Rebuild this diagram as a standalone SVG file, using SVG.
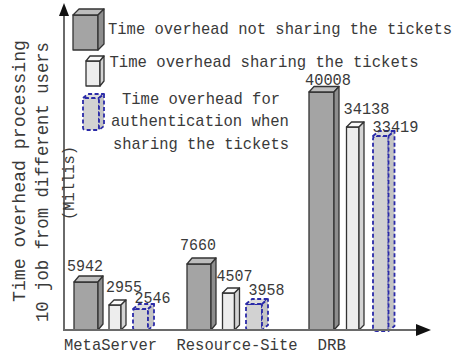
<svg xmlns="http://www.w3.org/2000/svg" width="462" height="354" viewBox="0 0 462 354">
<defs>
<style>
text{font-family:"Liberation Mono","DejaVu Sans Mono",monospace;fill:#3a3a3a;font-size:17px}
.ylab{font-size:19px}
.dk .f{fill:#a4a4a4}.dk .t{fill:#bdbdbd}.dk .s{fill:#8e8e8e}
.lt .f{fill:#ededed}.lt .t{fill:#fafafa}.lt .s{fill:#d4d4d4}
.dk *,.lt *{stroke:#333;stroke-width:1.3;stroke-linejoin:round}
.ds *{fill:#d2d2d2;stroke:#2a2aa8;stroke-width:1.8;stroke-dasharray:4 2.5;stroke-linejoin:round}
.ds .t{fill:#dcdcdc}.ds .s{fill:#c4c4c4}
.axis{stroke:#6a6a6a;stroke-width:2;fill:none}
</style>
</defs>
<rect width="462" height="354" fill="#fff"/>

<!-- legend -->
<g id="legend-not-sharing" class="dk">
<rect class="f" x="73" y="15" width="25" height="35"/>
<polygon class="t" points="73,15 79,9 104,9 98,15"/>
<polygon class="s" points="98,15 104,9 104,44 98,50"/>
</g>
<text x="108" y="34" textLength="344" lengthAdjust="spacingAndGlyphs">Time overhead not sharing the tickets</text>
<g id="legend-sharing" class="lt">
<rect class="f" x="86" y="61" width="14" height="25"/>
<polygon class="t" points="86,61 90,56 104,56 100,61"/>
<polygon class="s" points="100,61 104,56 104,81 100,86"/>
</g>
<text x="109.5" y="66.5" textLength="309" lengthAdjust="spacingAndGlyphs">Time overhead sharing the tickets</text>
<g id="legend-auth" class="ds">
<rect class="f" x="83" y="98" width="16" height="32" rx="2"/>
<polygon class="t" points="83,98 88,94 104,94 99,98"/>
<polygon class="s" points="99,98 104,94 104,126 99,130"/>
</g>
<g text-anchor="middle">
<text x="201" y="103.5" textLength="158" lengthAdjust="spacingAndGlyphs">Time overhead for</text>
<text x="200" y="126" textLength="178" lengthAdjust="spacingAndGlyphs">authentication when</text>
<text x="201" y="148.5" textLength="176" lengthAdjust="spacingAndGlyphs">sharing the tickets</text>
</g>

<!-- MetaServer -->
<g id="metaserver-not-sharing" class="dk">
<rect class="f" x="74" y="282" width="24" height="48"/>
<polygon class="t" points="74,282 79,276 103,276 98,282"/>
<polygon class="s" points="98,282 103,276 103,324 98,330"/>
</g>
<g id="metaserver-sharing" class="lt">
<rect class="f" x="109" y="305" width="12" height="25"/>
<polygon class="t" points="109,305 114,300 126,300 121,305"/>
<polygon class="s" points="121,305 126,300 126,325 121,330"/>
</g>
<g id="metaserver-auth" class="ds">
<rect class="f" x="133" y="309" width="15" height="21" rx="2"/>
<polygon class="t" points="133,309 139,304 154,304 148,309"/>
<polygon class="s" points="148,309 154,304 154,325 148,330"/>
</g>

<!-- Resource-Site -->
<g id="resource-not-sharing" class="dk">
<rect class="f" x="187" y="264" width="24" height="66"/>
<polygon class="t" points="187,264 192,258 216,258 211,264"/>
<polygon class="s" points="211,264 216,258 216,324 211,330"/>
</g>
<g id="resource-sharing" class="lt">
<rect class="f" x="222.5" y="293" width="12" height="37"/>
<polygon class="t" points="222.5,293 227.5,288 239.5,288 234.5,293"/>
<polygon class="s" points="234.5,293 239.5,288 239.5,325 234.5,330"/>
</g>
<g id="resource-auth" class="ds">
<rect class="f" x="246" y="304" width="16" height="26" rx="2"/>
<polygon class="t" points="246,304 252,299 268,299 262,304"/>
<polygon class="s" points="262,304 268,299 268,325 262,330"/>
</g>

<!-- DRB -->
<g id="drb-not-sharing" class="dk">
<rect class="f" x="309" y="92" width="25" height="238"/>
<polygon class="t" points="309,92 314,86.5 339,86.5 334,92"/>
<polygon class="s" points="334,92 339,86.5 339,324.5 334,330"/>
</g>
<g id="drb-sharing" class="lt">
<rect class="f" x="346.5" y="127" width="12.5" height="203"/>
<polygon class="t" points="346.5,127 351.5,122 364,122 359,127"/>
<polygon class="s" points="359,127 364,122 364,325 359,330"/>
</g>
<g id="drb-auth" class="ds">
<rect class="f" x="373" y="136" width="15.5" height="195" rx="3"/>
<polygon class="t" points="373,136 379,131 394.5,131 388.5,136"/>
<polygon class="s" points="388.5,136 394.5,131 394.5,326 388.5,331"/>
</g>

<!-- value labels -->
<g id="values">
<text x="67" y="271" textLength="36" lengthAdjust="spacingAndGlyphs">5942</text>
<text x="106" y="292" textLength="36" lengthAdjust="spacingAndGlyphs">2955</text>
<text x="134.5" y="302.5" textLength="36" lengthAdjust="spacingAndGlyphs">2546</text>
<text x="180" y="250" textLength="36" lengthAdjust="spacingAndGlyphs">7660</text>
<text x="216.5" y="281" textLength="36" lengthAdjust="spacingAndGlyphs">4507</text>
<text x="248.5" y="295" textLength="36" lengthAdjust="spacingAndGlyphs">3958</text>
<text x="305" y="85" textLength="46" lengthAdjust="spacingAndGlyphs">40008</text>
<text x="343.5" y="113.5" textLength="46" lengthAdjust="spacingAndGlyphs">34138</text>
<text x="372.5" y="131.5" textLength="46" lengthAdjust="spacingAndGlyphs">33419</text>
</g>

<!-- axes -->
<g id="axes">
<line class="axis" x1="64" y1="331" x2="64" y2="14"/>
<polygon points="64,3 59,16 69,16" fill="#111"/>
<line class="axis" x1="63" y1="330" x2="418" y2="330"/>
<polygon points="431,330 416,324 416,336" fill="#111"/>
</g>

<!-- category labels -->
<text x="64" y="350" textLength="93" lengthAdjust="spacingAndGlyphs">MetaServer</text>
<text x="176.5" y="350" textLength="121" lengthAdjust="spacingAndGlyphs">Resource-Site</text>
<text x="317.5" y="350" textLength="28.5" lengthAdjust="spacingAndGlyphs">DRB</text>

<!-- y axis title -->
<g text-anchor="middle">
<text class="ylab" transform="translate(25,171) rotate(-90)" textLength="262" lengthAdjust="spacingAndGlyphs">Time overhead processing</text>
<text class="ylab" transform="translate(48,182) rotate(-90)" textLength="280" lengthAdjust="spacingAndGlyphs">10 job from different users</text>
<text transform="translate(74,183) rotate(-90)" textLength="74" lengthAdjust="spacingAndGlyphs">(Millis)</text>
</g>
</svg>
